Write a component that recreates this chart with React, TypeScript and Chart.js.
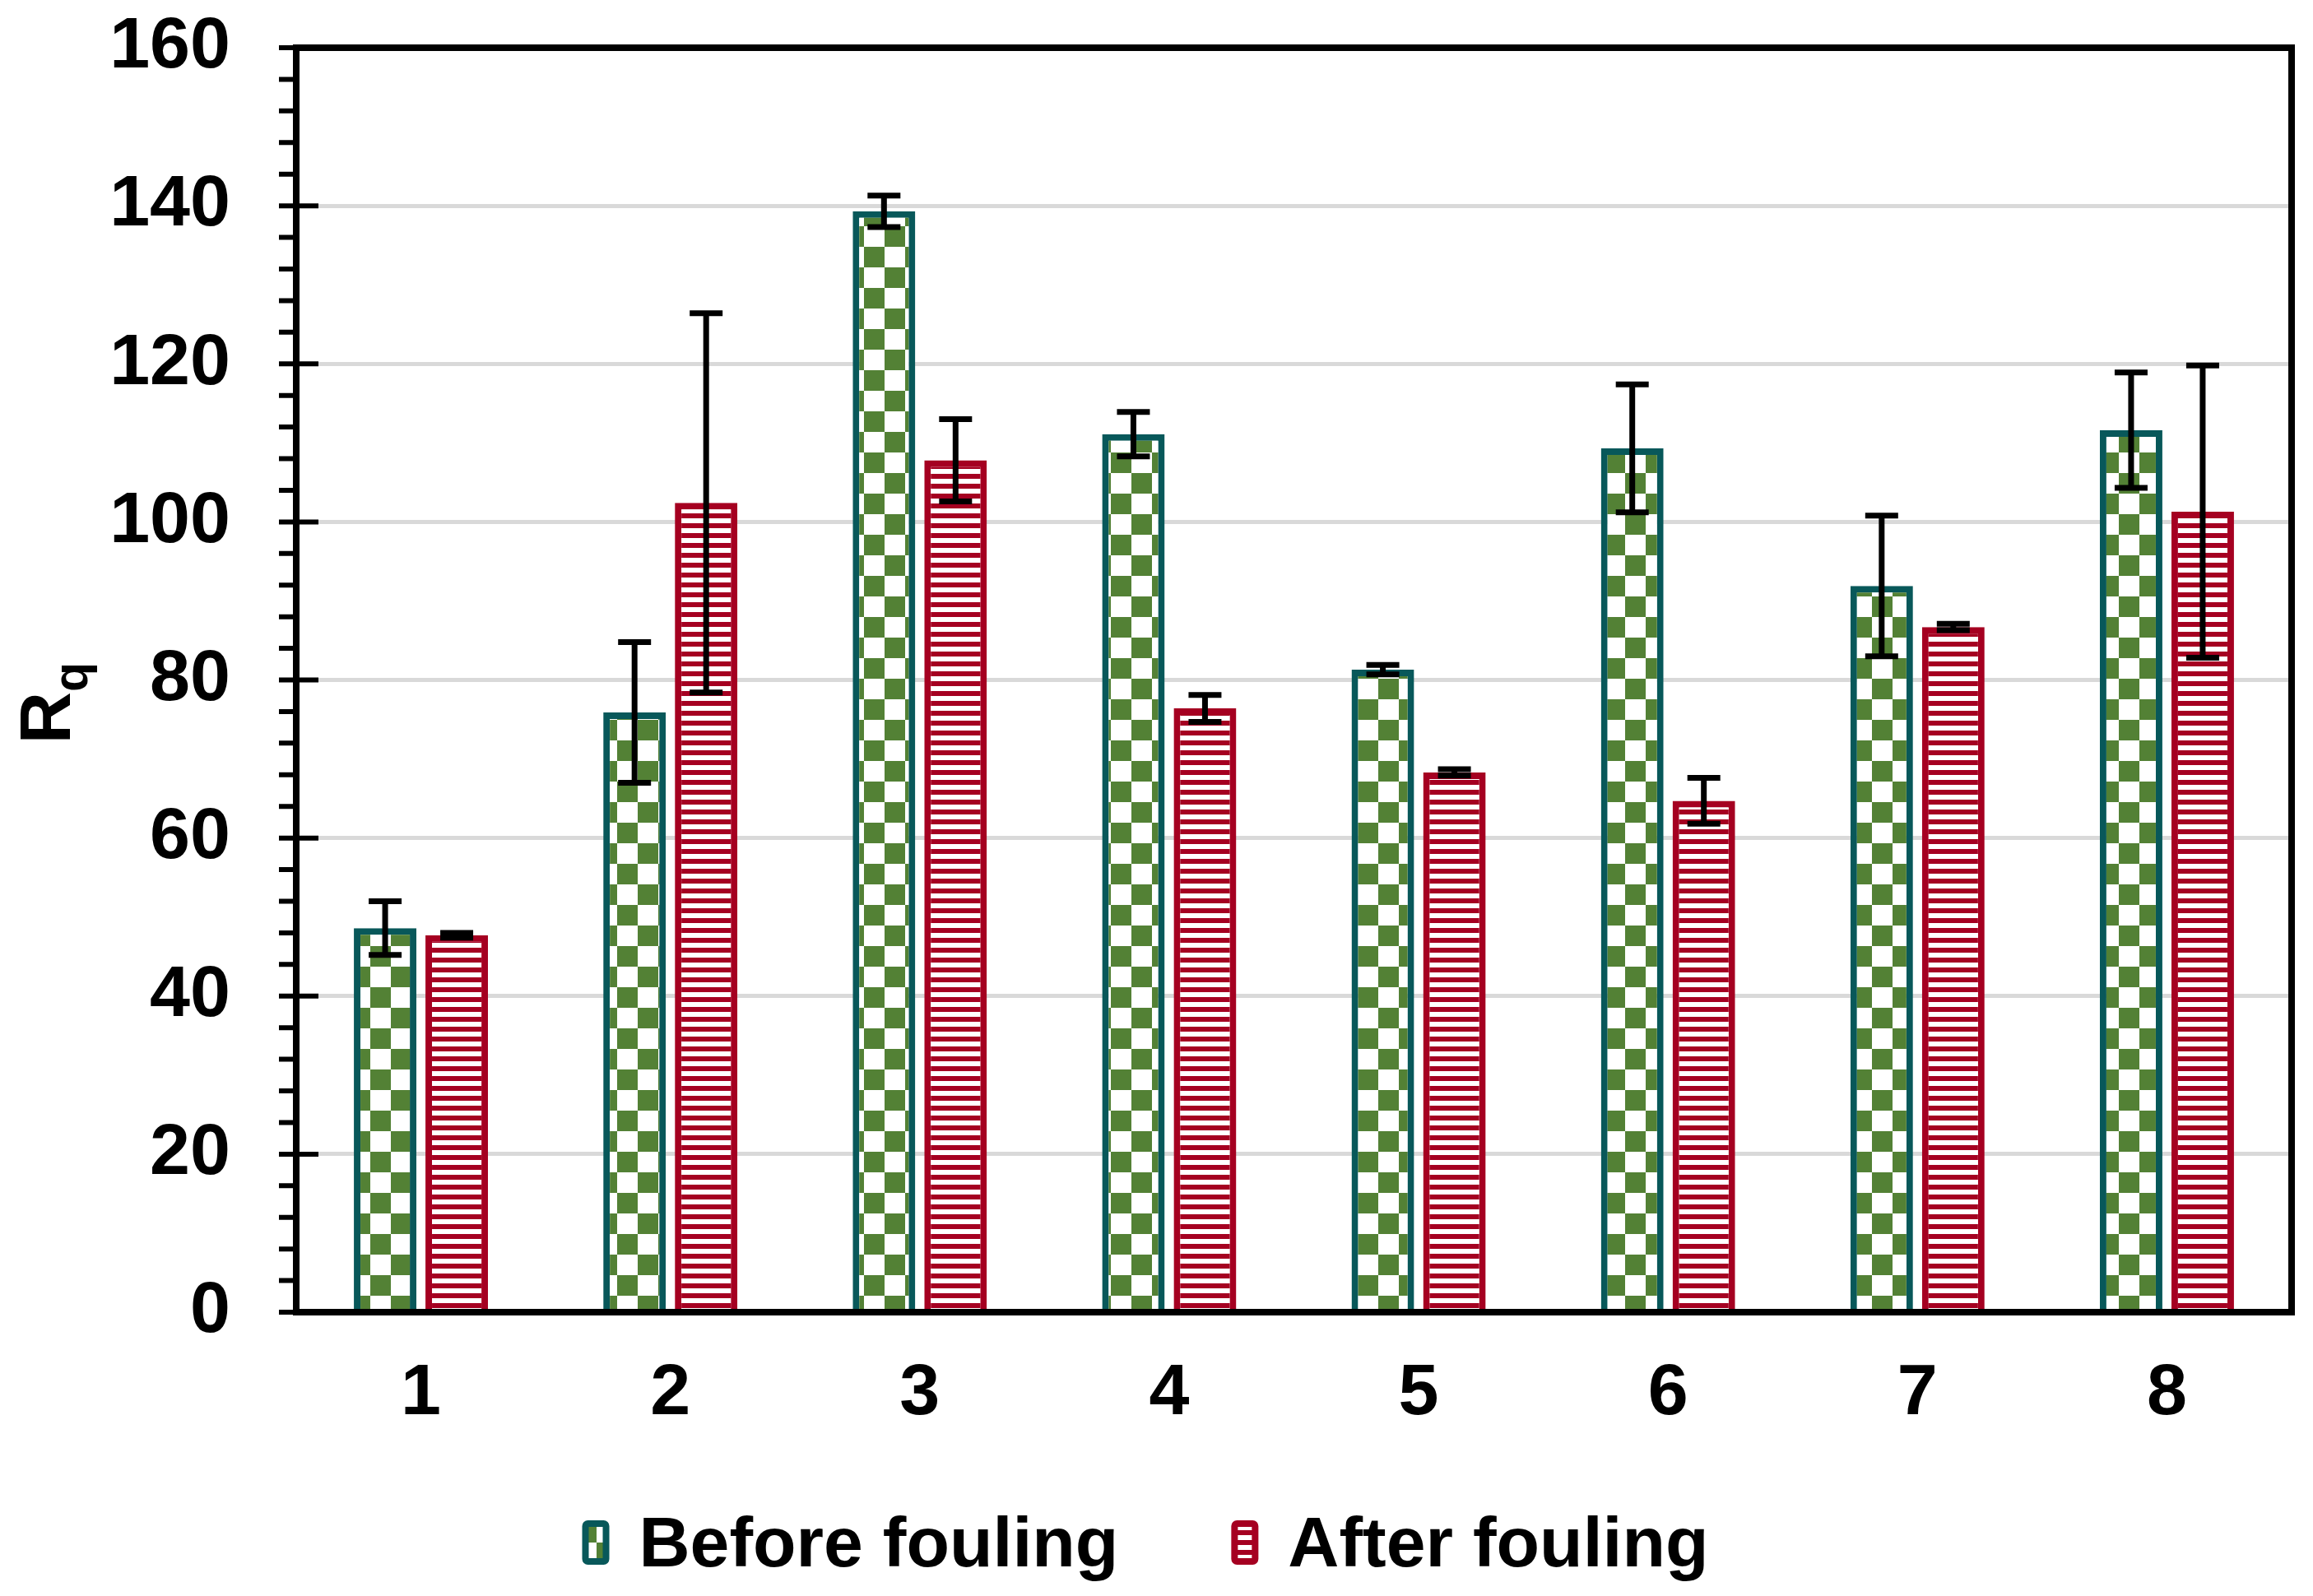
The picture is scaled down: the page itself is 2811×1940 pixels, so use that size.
import React, { useEffect, useRef } from 'react';
import { Chart, registerables } from 'chart.js';

Chart.register(...registerables);

const categories = ['1', '2', '3', '4', '5', '6', '7', '8'];
const seriesLabels = ['Before fouling', 'After fouling'];
const beforeValues = [48.6, 75.9, 139.3, 111.1, 81.3, 109.3, 91.9, 111.6];
const beforeErrors = [3.4, 8.9, 2.0, 2.8, 0.6, 8.1, 8.9, 7.3];
const afterValues = [47.7, 102.4, 107.8, 76.4, 68.3, 64.7, 86.7, 101.3];
const afterErrors = [0.3, 24.0, 5.2, 1.7, 0.4, 2.9, 0.4, 18.5];
const yMin = 0;
const yMax = 160;
const yMajorStep = 20;
const yMinorStep = 4;
const yTitleMain = 'R';
const yTitleSub = 'q';

const FONT_FAMILY = "'Liberation Sans', Arial, Helvetica, sans-serif";
const GREEN = '#538135';
const TEAL = '#08585A';
const RED = '#A50021';

function makeChecker(): CanvasPattern | string {
  const c = document.createElement('canvas');
  c.width = 50;
  c.height = 50;
  const g = c.getContext('2d');
  if (!g) return GREEN;
  g.fillStyle = '#ffffff';
  g.fillRect(0, 0, 50, 50);
  g.fillStyle = GREEN;
  g.fillRect(0, 0, 25, 25);
  g.fillRect(25, 25, 25, 25);
  return g.createPattern(c, 'repeat') || GREEN;
}

function makeStripes(): CanvasPattern | string {
  const c = document.createElement('canvas');
  c.width = 4;
  c.height = 12;
  const g = c.getContext('2d');
  if (!g) return RED;
  g.fillStyle = RED;
  g.fillRect(0, 0, 4, 6);
  g.fillStyle = '#ffffff';
  g.fillRect(0, 6, 4, 6);
  return g.createPattern(c, 'repeat') || RED;
}

const errorBarPlugin = {
  id: 'errorBars',
  afterDatasetsDraw(chart: any) {
    const ctx = chart.ctx;
    const yScale = chart.scales.y;
    const errs = [beforeErrors, afterErrors];
    const vals = [beforeValues, afterValues];
    ctx.save();
    ctx.strokeStyle = '#000';
    ctx.lineWidth = 7;
    ctx.lineCap = 'butt';
    chart.data.datasets.forEach((_: any, di: number) => {
      const meta = chart.getDatasetMeta(di);
      meta.data.forEach((el: any, i: number) => {
        const v = vals[di][i];
        const e = errs[di][i];
        const yT = yScale.getPixelForValue(v + e);
        const yB = yScale.getPixelForValue(v - e);
        const x = el.x;
        const cap = 20;
        ctx.beginPath();
        ctx.moveTo(x, yT);
        ctx.lineTo(x, yB);
        ctx.moveTo(x - cap, yT);
        ctx.lineTo(x + cap, yT);
        ctx.moveTo(x - cap, yB);
        ctx.lineTo(x + cap, yB);
        ctx.stroke();
      });
    });
    ctx.restore();
  },
};

const framePlugin = {
  id: 'frameAndTicks',
  afterDatasetsDraw(chart: any) {
    const ctx = chart.ctx;
    const a = chart.chartArea;
    const yScale = chart.scales.y;
    ctx.save();
    ctx.strokeStyle = '#000';
    ctx.lineWidth = 8;
    ctx.beginPath();
    ctx.rect(a.left, a.top, a.right - a.left, a.bottom - a.top);
    ctx.stroke();
    ctx.lineWidth = 6;
    ctx.beginPath();
    for (let v = yMin; v <= yMax + 1e-9; v += yMinorStep) {
      const y = yScale.getPixelForValue(v);
      const major = Math.abs(v % yMajorStep) < 1e-9;
      ctx.moveTo(a.left - 21, y);
      ctx.lineTo(major ? a.left + 27 : a.left, y);
    }
    ctx.stroke();
    ctx.restore();
  },
};

const yTitlePlugin = {
  id: 'yTitle',
  afterDraw(chart: any) {
    const ctx = chart.ctx;
    const a = chart.chartArea;
    const cy = (a.top + a.bottom) / 2 + 78;
    ctx.save();
    ctx.translate(85, cy);
    ctx.rotate(-Math.PI / 2);
    ctx.fillStyle = '#000';
    ctx.textAlign = 'left';
    ctx.textBaseline = 'alphabetic';
    ctx.font = `bold 88px ${FONT_FAMILY}`;
    ctx.fillText(yTitleMain, 0, 0);
    const w = ctx.measureText(yTitleMain).width;
    ctx.font = `bold 59px ${FONT_FAMILY}`;
    ctx.fillText(yTitleSub, w, 21);
    ctx.restore();
  },
};

const legendPlugin = {
  id: 'patternLegend',
  afterDraw(chart: any) {
    const ctx = chart.ctx;
    const datasets = chart.data.datasets;
    ctx.save();
    ctx.font = `bold 86px ${FONT_FAMILY}`;
    ctx.textAlign = 'left';
    ctx.textBaseline = 'alphabetic';
    const boxOuterW = 33;
    const boxOuterH = 54;
    const boxTextGap = 36;
    const itemGap = 137;
    const widths = datasets.map((d: any) => ctx.measureText(d.label).width);
    let total = 0;
    widths.forEach((w: number, i: number) => {
      total += boxOuterW + boxTextGap + w + (i < widths.length - 1 ? itemGap : 0);
    });
    let x = 1392 - total / 2;
    const centerY = 1875;
    datasets.forEach((d: any, i: number) => {
      const bw = d.borderWidth;
      ctx.fillStyle = d.backgroundColor;
      ctx.strokeStyle = d.borderColor;
      ctx.lineWidth = bw;
      const bx = x + bw / 2;
      const by = centerY - boxOuterH / 2 + bw / 2;
      const w = boxOuterW - bw;
      const h = boxOuterH - bw;
      ctx.beginPath();
      if ((ctx as any).roundRect) {
        (ctx as any).roundRect(bx, by, w, h, 3);
      } else {
        ctx.rect(bx, by, w, h);
      }
      ctx.fill();
      ctx.stroke();
      ctx.fillStyle = '#000';
      ctx.fillText(d.label, x + boxOuterW + boxTextGap, centerY + 29);
      x += boxOuterW + boxTextGap + widths[i] + itemGap;
    });
    ctx.restore();
  },
};

export default function App() {
  const ref = useRef<HTMLCanvasElement | null>(null);

  useEffect(() => {
    if (!ref.current) return;
    const font = { family: FONT_FAMILY, size: 88, weight: 'bold' as const };
    const chart = new Chart(ref.current, {
      type: 'bar',
      data: {
        labels: categories,
        datasets: [
          {
            label: seriesLabels[0],
            data: beforeValues,
            backgroundColor: makeChecker() as any,
            borderColor: TEAL,
            borderWidth: 8,
            categoryPercentage: 0.574,
            barPercentage: 0.874,
          },
          {
            label: seriesLabels[1],
            data: afterValues,
            backgroundColor: makeStripes() as any,
            borderColor: RED,
            borderWidth: 8,
            categoryPercentage: 0.574,
            barPercentage: 0.874,
          },
        ],
      },
      options: {
        animation: false,
        responsive: true,
        maintainAspectRatio: false,
        layout: { padding: { left: 0, right: 26, top: 58, bottom: 185 } },
        plugins: {
          legend: { display: false },
          tooltip: { enabled: false },
        },
        scales: {
          x: {
            grid: { display: false, drawTicks: false },
            border: { display: false },
            ticks: { font, color: '#000', padding: 47 },
            afterFit: (s: any) => {
              s.height = 160;
            },
          },
          y: {
            min: yMin,
            max: yMax,
            grid: {
              drawTicks: true,
              tickLength: 75,
              tickColor: 'rgba(0,0,0,0)',
              lineWidth: 5,
              color: (c: any) =>
                c.tick && Math.abs(c.tick.value % yMajorStep) < 1e-9 ? '#d9d9d9' : 'rgba(0,0,0,0)',
            },
            border: { display: false },
            ticks: {
              stepSize: yMinorStep,
              autoSkip: false,
              font,
              color: '#000',
              padding: 5,
              callback: (v: any) => (Math.abs(Number(v) % yMajorStep) < 1e-9 ? String(v) : ''),
            },
            afterFit: (s: any) => {
              s.width = 360;
            },
          },
        },
      },
      plugins: [errorBarPlugin, framePlugin, yTitlePlugin, legendPlugin],
    });
    return () => chart.destroy();
  }, []);

  return (
    <div
      style={{
        position: 'fixed',
        left: 0,
        top: 0,
        width: '2811px',
        height: '1940px',
        background: '#ffffff',
      }}
    >
      <canvas ref={ref} />
    </div>
  );
}
